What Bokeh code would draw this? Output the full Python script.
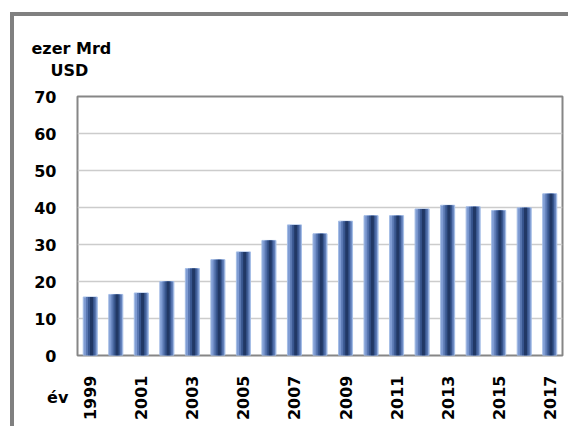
from bokeh.plotting import figure
from bokeh.models import ColumnDataSource, FixedTicker, Label, Title
from bokeh.transform import dodge
from bokeh.embed import file_html
from bokeh.resources import INLINE
from math import pi

years = list(range(1999, 2018))
values = [15.8, 16.5, 16.9, 20.0, 23.5, 25.9, 28.0, 31.1, 35.3, 32.9,
          36.3, 37.8, 37.8, 39.6, 40.6, 40.2, 39.2, 39.9, 43.7]
y_ticks = [0, 10, 20, 30, 40, 50, 60, 70]
x_ticks = list(range(1999, 2018, 2))
y_unit_line1 = "ezer Mrd"
y_unit_line2 = "USD"
x_unit = "év"

FONT = "DejaVu Sans"

src = ColumnDataSource(dict(year=years, value=values))

p = figure(x_range=(years[0] - 0.5, years[-1] + 0.5), y_range=(0, 70), width=558, height=414,
           output_backend="svg", toolbar_location=None,
           min_border_left=63, min_border_right=10, min_border_top=80, min_border_bottom=75)
p.styles = {"margin-left": "10px", "margin-top": "12px",
            "border-left": "4px solid #808080", "border-top": "4px solid #808080"}

# layered bars to imitate the gradient fill
p.vbar(x="year", top="value", width=0.55, source=src, fill_color="#7f9cd3",
       line_color="#a4bde6", line_width=1)
p.vbar(x=dodge("year", 0.03), top="value", width=0.40, source=src,
       fill_color="#5a78b2", line_color=None)
p.vbar(x=dodge("year", 0.04), top="value", width=0.26, source=src,
       fill_color="#38568e", line_color=None)
p.vbar(x=dodge("year", 0.05), top="value", width=0.12, source=src,
       fill_color="#213865", line_color=None)

p.outline_line_color = "#868686"
p.outline_line_width = 2
p.xgrid.grid_line_color = None
p.ygrid.grid_line_color = "#cccccc"
p.ygrid.grid_line_width = 1.5
p.ygrid.ticker = FixedTicker(ticks=y_ticks)

p.yaxis.ticker = FixedTicker(ticks=y_ticks)
p.yaxis.axis_line_color = None
p.yaxis.major_tick_line_color = None
p.yaxis.minor_tick_line_color = None
p.yaxis.major_label_standoff = 15
p.yaxis.major_label_text_font = FONT
p.yaxis.major_label_text_font_style = "bold"
p.yaxis.major_label_text_font_size = "16px"
p.yaxis.major_label_text_color = "#000000"

p.xaxis.ticker = FixedTicker(ticks=x_ticks)
p.xaxis.axis_line_color = None
p.xaxis.major_tick_line_color = None
p.xaxis.minor_tick_line_color = None
p.xaxis.major_label_orientation = pi / 2
p.xaxis.major_label_standoff = 14
p.xaxis.major_label_text_font = FONT
p.xaxis.major_label_text_font_style = "bold"
p.xaxis.major_label_text_font_size = "16px"
p.xaxis.major_label_text_color = "#000000"

p.background_fill_color = "white"
p.border_fill_color = "white"

# x unit label, positioned in data coordinates (left of the first year, below zero);
# kept in a side panel so it is not clipped to the frame
p.add_layout(Label(x=1997.31, y=-11.35, text=x_unit, text_font=FONT,
                   text_font_style="bold", text_font_size="16px", text_color="#000000",
                   text_baseline="alphabetic"), "above")

# unit texts of the value axis
p.add_layout(Title(text=y_unit_line2, offset=-27, standoff=-4, align="left",
                   text_font=FONT, text_font_style="bold", text_font_size="16px",
                   text_color="#000000"), "above")
p.title.text = y_unit_line1
p.title.align = "left"
p.title.offset = -46
p.title.standoff = 6
p.title.text_font = FONT
p.title.text_font_style = "bold"
p.title.text_font_size = "16px"
p.title.text_color = "#000000"

open("out.html", "w").write(file_html(p, INLINE))
